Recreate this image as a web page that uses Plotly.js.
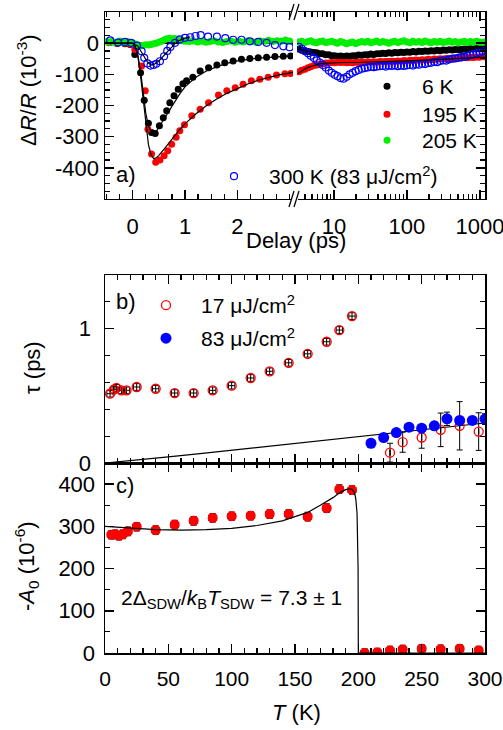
<!DOCTYPE html>
<html>
<head>
<meta charset="utf-8">
<script src="https://cdn.plot.ly/plotly-3.0.1.min.js"></script>
<style>html,body{margin:0;padding:0;background:#fff;}#chart{width:503px;height:730px;}</style>
</head>
<body>
<div id="chart"></div>
<script>
// ---------- Panel a) : short delays (linear part, ps) ----------
const black6T = [-0.45,-0.3,-0.15,-0.05,0.04,0.15,0.22,0.30,0.36,0.43,0.51,0.585,0.65,0.71,0.79,0.87,0.96,1.03,1.15,1.29,1.45,1.61,1.76,1.92,2.08,2.24,2.40,2.56,2.72,2.88,3.02];
const black6V = [2,0,-2,-4,-36,-95,-183,-257,-287,-290,-265,-239,-217,-191,-169,-148,-130,-121,-109,-89,-79,-70,-63,-57,-52,-49,-47,-45,-43,-42,-41];
const red195T = [-0.45,-0.3,-0.15,-0.05,0.04,0.17,0.24,0.29,0.36,0.44,0.52,0.60,0.67,0.745,0.83,0.90,0.99,1.13,1.29,1.45,1.64,1.80,1.96,2.11,2.27,2.43,2.59,2.75,2.91,3.02];
const red195V = [1,-1,0,-3,-20,-73,-153,-276,-356,-382,-375,-361,-345,-324,-302,-281,-262,-233,-212,-191,-166,-153,-143,-132,-121,-116,-109,-102,-98,-97];
const green205T = [-0.5,-0.45,-0.4,-0.35,-0.3,-0.25,-0.2,-0.15,-0.1,-0.05,0,0.05,0.1,0.15,0.2,0.25,0.3,0.35,0.4,0.45,0.5,0.55,0.6,0.65,0.7,0.75,0.8,0.85,0.9,0.95,1.0,1.08,1.16,1.24,1.32,1.4,1.48,1.56,1.64,1.72,1.8,1.88,1.96,2.04,2.12,2.2,2.28,2.36,2.44,2.52,2.6,2.68,2.76,2.84,2.92,3.0];
const green205V = [5,3,6,2,4,7,3,1,5,2,0,-3,-6,-8,-7,-5,-6,-4,-2,0,3,6,10,14,16,13,15,12,10,8,6,5,7,4,6,3,5,8,4,2,5,7,3,6,4,8,5,3,7,6,9,5,8,6,10,7];
const blue300T = [-0.43,-0.28,-0.15,-0.03,0.08,0.17,0.22,0.28,0.34,0.40,0.45,0.52,0.60,0.66,0.72,0.81,0.90,1.0,1.10,1.20,1.30,1.44,1.61,1.77,1.92,2.08,2.24,2.40,2.56,2.72,2.88,3.0];
const blue300V = [9,2,4,1,-8,-26,-47,-65,-72,-70,-66,-58,-42,-25,-12,1,12,17,19,23,26,21,21,16,11,11,6,4,1,-6,-10,-13];
// fits, short delays
const fit6T = [-0.53,0,0.05,0.1,0.15,0.2,0.25,0.3,0.35,0.4,0.45,0.5,0.6,0.7,0.8,0.9,1.0,1.2,1.4,1.6,1.8,2.0,2.4,2.8,3.065];
const fit6V = [0,0,-10,-40,-90,-160,-225,-265,-285,-290,-284,-270,-243,-215,-188,-163,-140,-110,-90,-76,-65,-57,-48,-43,-41];
const fit195T = [-0.53,0,0.05,0.1,0.15,0.2,0.25,0.3,0.35,0.4,0.45,0.5,0.6,0.7,0.8,0.9,1.0,1.2,1.4,1.6,1.8,2.0,2.2,2.4,2.6,2.8,3.065];
const fit195V = [0,0,-12,-45,-105,-185,-265,-325,-358,-370,-368,-360,-340,-318,-297,-277,-259,-228,-202,-180,-161,-145,-131,-119,-110,-102,-94];
const fit300T = [0,0.1,0.2,0.28,0.35,0.42,0.5,0.6,0.7,0.8,0.9,1.0,1.1];
const fit300V = [0,-10,-38,-60,-70,-67,-57,-40,-20,-3,9,16,20];

// ---------- Panel a) : long delays (log part, ps) ----------
const delayLong = [3.3,3.6,4.0,4.4,4.8,5.3,5.8,6.4,7.0,7.7,8.5,9.3,10.2,11.2,12.3,13.5,14.9,16.4,18,19.8,21.8,24,26.4,29,32,35,38.5,42.4,46.6,51.3,56.4,62,68,75,83,91,100,110,121,133,146,161,177,195,214,236,259,285,314,345,380,418,460,506,556,612,673,740,814,896,985,1084,1192,1260];
const black6L = [-19,-23,-24,-27,-28,-30,-31,-34,-34,-37,-37,-40,-40,-42,-41,-43,-41,-42,-40,-40,-38,-39,-37,-37,-35,-36,-34,-34,-32,-33,-31,-32,-30,-31,-29,-30,-28,-29,-27,-28,-26,-27,-25,-26,-24,-25,-23,-24,-22,-23,-21,-22,-20,-21,-20,-19,-20,-18,-19,-17,-18,-16,-17,-15];
const red195L = [-92,-87,-84,-79,-76,-72,-70,-67,-66,-64,-64,-62,-63,-61,-62,-61,-63,-62,-63,-61,-62,-61,-62,-60,-61,-60,-61,-59,-60,-59,-59,-58,-59,-57,-58,-56,-57,-55,-56,-54,-55,-53,-54,-52,-53,-51,-52,-50,-51,-49,-50,-48,-49,-47,-48,-46,-47,-45,-46,-44,-45,-43,-44,-42];
const green205L = [4,6,2,5,8,3,1,5,7,2,4,6,3,0,5,2,-2,1,4,-1,2,5,3,6,1,4,7,2,5,3,0,4,6,2,5,8,4,1,6,3,5,2,7,4,1,5,3,6,2,4,7,3,5,1,4,6,2,5,3,6,4,2,5,3];
const blue300L = [-12,-18,-26,-32,-40,-48,-55,-62,-70,-78,-88,-95,-101,-106,-112,-114,-108,-100,-95,-90,-86,-82,-80,-78,-76,-77,-75,-74,-73,-75,-72,-73,-71,-74,-72,-73,-71,-70,-72,-68,-69,-66,-67,-64,-63,-60,-61,-57,-55,-56,-52,-50,-49,-47,-45,-44,-41,-38,-36,-33,-30,-27,-24,-22];
const fit195LT = [3.2,3.6,4,4.5,5,6,7,8,10,13,20,50,100,300,1000,1300];
const fit195LV = [-97,-89,-83,-77,-73,-68,-65,-64,-63,-62,-62,-60,-57,-52,-45,-44];
const fit6LT = [3.2,4,5,7,10,13,20,50,100,300,1000,1300];
const fit6LV = [-20,-25,-29,-35,-40,-41,-39,-33,-28,-23,-17,-15];

// ---------- Panel b) : relaxation time vs T ----------
const tauLowT = [4,7,9,13,17,25,40,55,70,85,100,115,130,145,160,175,185,195,225,235,250,265,280,295];
const tauLow = [0.516,0.546,0.559,0.541,0.541,0.566,0.553,0.521,0.521,0.541,0.576,0.633,0.683,0.746,0.813,0.903,0.990,1.094,0.077,0.155,0.19,0.247,0.277,0.234];
const tauLowErr = [0.025,0.025,0.025,0.025,0.025,0.025,0.025,0.025,0.025,0.025,0.025,0.025,0.025,0.025,0.025,0.025,0.025,0.025,0.07,0.075,0.08,0.125,0.18,0.14];
const tauLowErrT = [2.5,2.5,2.5,2.5,2.5,2.5,2.5,2.5,2.5,2.5,2.5,2.5,2.5,2.5,2.5,2.5,2.5,2.5,0,0,0,0,0,0];
const tauHighT = [210,220,230,240,250,260,270,280,290,300];
const tauHigh = [0.147,0.19,0.227,0.267,0.259,0.277,0.329,0.317,0.317,0.327];
const tauHighErr = [0.015,0.02,0.02,0.025,0.025,0.03,0.05,0.03,0.03,0.04];
const tauHighErrT = [2,2,2,2,2,2,2,2,2,2];
const tauFitT = [0,25,50,75,100,125,150,175,200,225,250,275,300];
const tauFit = [0,0.02,0.045,0.07,0.095,0.12,0.145,0.17,0.195,0.22,0.245,0.27,0.298];

// ---------- Panel c) : amplitude vs T ----------
const ampT = [5,8,11,14,18,25,40,55,70,85,100,115,130,145,160,175,185,195,205,215,225,235,250,265,280,295];
const amp = [280,281,278,281,288,299,291,304,313,320,324,325,329,329,323,343,388,386,0,1,6,8,10,9,10,6];
const ampErr = 10, ampErrT = 3;
const ampFitT = [0,20,40,60,80,100,120,140,160,170,180,186,190,193,195,197,198,199,199.5,199.8,200,300];
const ampFit = [300,296,292,291,292,295,302,313,333,350,368,381,387,389,388,380,365,330,280,200,0,0];

// ---------- tick labels ----------
const yTicksA = [-400,-300,-200,-100,0,100];
const yTickTextA = ['-400','-300','-200','-100','0','100'];
const xTicksShort = [0,1,2];
const xTicksLong = [10,100,1000];
const xTickTextLong = ['10','100','1000'];
const xTicksT = [0,50,100,150,200,250,300];
const xTickTextT = ['0','50','100','150','200','250','300'];
const logMinor = [4,5,6,7,8,9,20,30,40,50,60,70,80,90,200,300,400,500,600,700,800,900];

const RED = '#ff0000', BLACK = '#000000', GREEN = '#00ee00', BLUE = '#0000ff';
const FONT = 'Liberation Sans, Arial, Helvetica, sans-serif';
const FS = 22, LFS = 21;

function dots(x, y, color, name, xa, ya, show, legend) {
  return {x: x, y: y, xaxis: xa, yaxis: ya, type: 'scatter', mode: 'markers', name: name,
    marker: {color: color, size: 7}, showlegend: show, legend: legend || 'legend'};
}
function circles(x, y, color, name, xa, ya, show, legend) {
  return {x: x, y: y, xaxis: xa, yaxis: ya, type: 'scatter', mode: 'markers', name: name,
    marker: {color: color, size: 7, symbol: 'circle-open', line: {color: color, width: 1.2}},
    showlegend: show, legend: legend || 'legend'};
}
function fit(x, y, xa, ya) {
  return {x: x, y: y, xaxis: xa, yaxis: ya, type: 'scatter', mode: 'lines',
    line: {color: BLACK, width: 1.2}, showlegend: false, hoverinfo: 'skip'};
}

const traces = [
  dots(black6T, black6V, BLACK, '6 K', 'x', 'y', true, 'legend'),
  dots(red195T, red195V, RED, '195 K', 'x', 'y', true, 'legend4'),
  dots(green205T, green205V, GREEN, '205 K', 'x', 'y', true, 'legend5'),
  circles(blue300T, blue300V, BLUE, '300 K (83 \u03bcJ/cm<sup>2</sup>)', 'x', 'y', true, 'legend2'),
  dots(delayLong, black6L, BLACK, '6 K', 'x2', 'y2', false),
  dots(delayLong, red195L, RED, '195 K', 'x2', 'y2', false),
  dots(delayLong, green205L, GREEN, '205 K', 'x2', 'y2', false),
  circles(delayLong, blue300L, BLUE, '300 K', 'x2', 'y2', false),
  fit(fit6T, fit6V, 'x', 'y'),
  fit(fit195T, fit195V, 'x', 'y'),
  fit(fit300T, fit300V, 'x', 'y'),
  fit(fit195LT, fit195LV, 'x2', 'y2'),
  fit(fit6LT, fit6LV, 'x2', 'y2'),
  // panel b
  fit(tauFitT, tauFit, 'x3', 'y3'),
  {x: tauLowT, y: tauLow, xaxis: 'x3', yaxis: 'y3', type: 'scatter', mode: 'markers',
   name: '17 \u03bcJ/cm<sup>2</sup>', legend: 'legend3',
   marker: {size: 9, symbol: 'circle-open', color: RED, line: {color: RED, width: 1.3}},
   error_y: {type: 'data', array: tauLowErr, color: BLACK, thickness: 1, width: 3},
   error_x: {type: 'data', array: tauLowErrT, color: BLACK, thickness: 1, width: 3}},
  {x: tauHighT, y: tauHigh, xaxis: 'x3', yaxis: 'y3', type: 'scatter', mode: 'markers',
   name: '83 \u03bcJ/cm<sup>2</sup>', legend: 'legend6',
   marker: {size: 11, color: BLUE},
   error_y: {type: 'data', array: tauHighErr, color: BLACK, thickness: 1, width: 3},
   error_x: {type: 'data', array: tauHighErrT, color: BLACK, thickness: 1, width: 3}},
  // panel c
  {x: ampT, y: amp, xaxis: 'x4', yaxis: 'y4', type: 'scatter', mode: 'markers', showlegend: false,
   marker: {size: 10, color: RED},
   error_y: {type: 'constant', value: ampErr, color: BLACK, thickness: 1.2, width: 3},
   error_x: {type: 'constant', value: ampErrT, color: BLACK, thickness: 1.2, width: 3}},
  fit(ampFitT, ampFit, 'x4', 'y4')
];

const axisBase = {showline: true, linecolor: BLACK, linewidth: 1.5, ticks: 'inside', ticklen: 9,
  tickwidth: 1.5, tickcolor: BLACK, showgrid: false, zeroline: false,
  tickfont: {family: FONT, size: FS, color: BLACK}};
function ax(extra) { return Object.assign({}, axisBase, extra); }
const minorOpts = (d) => ({dtick: d, ticks: 'inside', ticklen: 5, tickwidth: 1.2, tickcolor: BLACK, showgrid: false});

// px -> paper helpers for decoration only
const L = 105, W = 380, B = 653, H = 641;
const px = (v) => (v - L) / W, py = (v) => (B - v) / H;
function slash(x0, y0, x1, y1) {
  return {type: 'line', xref: 'paper', yref: 'paper', x0: px(x0), y0: py(y0), x1: px(x1), y1: py(y1),
    line: {color: BLACK, width: 1.3}};
}
function leg(xp, yp) {
  return {x: px(xp), y: py(yp), xanchor: 'left', yanchor: 'top', bgcolor: 'rgba(0,0,0,0)',
    font: {family: FONT, size: LFS}, itemwidth: 60};
}
function label(text, xp, yp, extra) {
  return Object.assign({text: text, xref: 'paper', yref: 'paper', x: px(xp), y: py(yp), showarrow: false,
    xanchor: 'center', yanchor: 'middle', font: {family: FONT, size: FS, color: BLACK}}, extra || {});
}

const layout = {
  width: 503, height: 730,
  margin: {l: 105, r: 18, t: 12, b: 77},
  paper_bgcolor: '#ffffff', plot_bgcolor: '#ffffff',
  font: {family: FONT, size: FS, color: BLACK},
  xaxis: ax({domain: [0, 0.4947], range: [-0.53, 3.065], anchor: 'y', tickmode: 'array', tickvals: xTicksShort,
    minor: Object.assign(minorOpts(0.25), {tick0: 0}), mirror: 'ticks', ticklabelstandoff: 7}),
  xaxis2: ax({domain: [0.5053, 1], type: 'log', range: [0.493, 3.07], anchor: 'y2', tickmode: 'array',
    tickvals: xTicksLong, ticktext: xTickTextLong, ticklabeloverflow: 'allow',
    minor: {tickmode: 'array', tickvals: logMinor, ticks: 'inside', ticklen: 5, tickwidth: 1.2, tickcolor: BLACK},
    mirror: 'ticks', ticklabelstandoff: 7}),
  yaxis: ax({domain: [0.7083, 1], range: [-500, 100], anchor: 'x', tickmode: 'array', tickvals: yTicksA,
    ticktext: yTickTextA, minor: Object.assign(minorOpts(25), {tick0: 0}),
    zeroline: true, zerolinecolor: BLACK, zerolinewidth: 2.2}),
  yaxis2: ax({domain: [0.7083, 1], range: [-500, 100], anchor: 'x2', side: 'right', showticklabels: false,
    dtick: 100, minor: Object.assign(minorOpts(25), {tick0: 0}),
    zeroline: true, zerolinecolor: BLACK, zerolinewidth: 2.2}),
  xaxis3: ax({domain: [0, 1], range: [0, 300], anchor: 'y3', dtick: 50, showticklabels: false,
    minor: minorOpts(10), mirror: 'ticks'}),
  yaxis3: ax({domain: [0.2964, 0.5897], range: [0, 1.4], anchor: 'x3', dtick: 1, minor: minorOpts(0.2),
    mirror: 'ticks', ticklabelstandoff: 8}),
  xaxis4: ax({domain: [0, 1], range: [0, 300], anchor: 'y4', tickmode: 'array', tickvals: xTicksT,
    ticktext: xTickTextT, minor: minorOpts(10), mirror: 'ticks', ticklabelstandoff: 6,
    tickfont: {family: FONT, size: 21, color: BLACK}}),
  yaxis4: ax({domain: [0, 0.2964], range: [0, 450], anchor: 'x4', dtick: 100, minor: minorOpts(50),
    mirror: 'ticks', ticklabelstandoff: 4}),
  legend: leg(352, 66),
  legend4: leg(352, 94),
  legend5: leg(352, 120),
  legend2: leg(199, 156),
  legend3: leg(131, 285),
  legend6: leg(131, 318),
  annotations: [
    label('\u0394<i>R</i>/<i>R</i> (10<sup>-3</sup>)', 27, 90, {textangle: -90}),
    label('Delay (ps)', 296, 240),
    label('\u03c4 (ps)', 32, 368, {textangle: -90}),
    label('-<i>A</i><sub>0</sub> (10<sup>-6</sup>)', 26, 566, {textangle: -90}),
    label('<i>T</i> (K)', 296, 712),
    label('a)', 114, 174, {xanchor: 'left'}),
    label('b)', 114, 302, {xanchor: 'left'}),
    label('c)', 114, 485, {xanchor: 'left'}),
    label('2\u0394<sub>SDW</sub>/<i>k</i><sub>B</sub><i>T</i><sub>SDW</sub> = 7.3 \u00b1 1', 119, 599,
      {xanchor: 'left', font: {family: FONT, size: 21, color: BLACK}})
  ],
  shapes: [
    {type: 'rect', xref: 'paper', yref: 'paper', x0: px(292), x1: px(298), y0: py(4), y1: py(20), fillcolor: '#fff', line: {width: 0}},
    {type: 'rect', xref: 'paper', yref: 'paper', x0: px(292), x1: px(298), y0: py(191), y1: py(207), fillcolor: '#fff', line: {width: 0}},
    slash(289, 20, 294, 4), slash(294, 20, 299, 4),
    slash(289, 207, 294, 191), slash(294, 207, 299, 191)
  ]
};

Plotly.newPlot('chart', traces, layout, {displayModeBar: false, staticPlot: true});
</script>
</body>
</html>
